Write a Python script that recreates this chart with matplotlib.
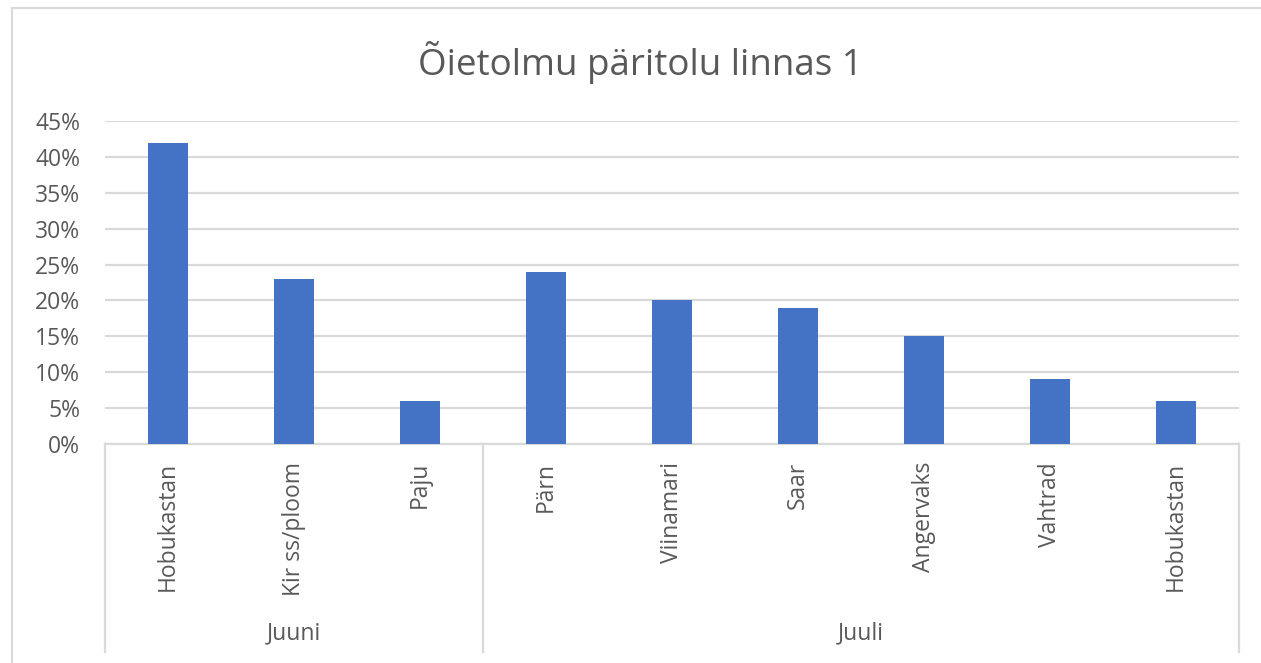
import matplotlib
matplotlib.use("Agg")
import matplotlib.pyplot as plt
from matplotlib.patches import Rectangle
from matplotlib.ticker import PercentFormatter, MultipleLocator

title = "Õietolmu päritolu linnas 1"
categories = ["Hobukastan", "Kir ss/ploom", "Paju", "Pärn", "Viinamari",
              "Saar", "Angervaks", "Vahtrad", "Hobukastan"]
values = [0.42, 0.23, 0.06, 0.24, 0.20, 0.19, 0.15, 0.09, 0.06]
groups = ["Juuni", "Juuli"]
group_sizes = [3, 6]

W, H = 1261, 663
plt.rcParams['font.family'] = ['Open Sans', 'DejaVu Sans']
txt = '#595959'
grid_c = '#d9d9d9'
fs = 16.5

fig = plt.figure(figsize=(W / 100, H / 100), dpi=100)
fig.patches.append(Rectangle((12 / W, -0.1), 1.2, 1 - 8 / H + 0.1,
                             transform=fig.transFigure, fill=False,
                             edgecolor=grid_c, linewidth=1.5))

x0, x1, y0, y1 = 105, 1239, 444, 121
ax = fig.add_axes([x0 / W, 1 - y0 / H, (x1 - x0) / W, (y0 - y1) / H])
xs = list(range(len(categories)))
ax.bar(xs, values, width=0.32, color='#4472C4', zorder=3)
ax.set_xlim(-0.5, len(categories) - 0.5)
ax.set_ylim(0, 0.45)
ax.yaxis.set_major_locator(MultipleLocator(0.05))
ax.yaxis.set_major_formatter(PercentFormatter(1.0, decimals=0))
ax.grid(axis='y', color=grid_c, linewidth=1.6, zorder=0)
for s in ['top', 'right', 'left']:
    ax.spines[s].set_visible(False)
ax.spines['bottom'].set_color(grid_c)
ax.spines['bottom'].set_linewidth(1.6)
ax.tick_params(axis='y', length=0, pad=18, labelsize=fs, labelcolor=txt)
ax.set_xticks([])

box_bottom = (y0 - 652) / (y0 - y1)
bounds = [-0.5]
for n in group_sizes:
    bounds.append(bounds[-1] + n)
trans = ax.get_xaxis_transform()
for b in bounds:
    ax.plot([b, b], [0, box_bottom], color=grid_c, linewidth=1.6,
            transform=trans, clip_on=False)

lab_y = (y0 - 462) / (y0 - y1)
for x, c in zip(xs, categories):
    ax.text(x, lab_y, c, rotation=90, ha='center', va='top', fontsize=fs,
            color=txt, transform=trans)

grp_y = (y0 - 633) / (y0 - y1)
for i, g in enumerate(groups):
    ax.text((bounds[i] + bounds[i + 1]) / 2, grp_y, g, ha='center',
            va='center', fontsize=fs, color=txt, transform=trans)

fig.text(640 / W, 1 - 62 / H, title, ha='center', va='center',
         fontsize=26.5, color=txt)

fig.savefig('out.png', dpi=100)
